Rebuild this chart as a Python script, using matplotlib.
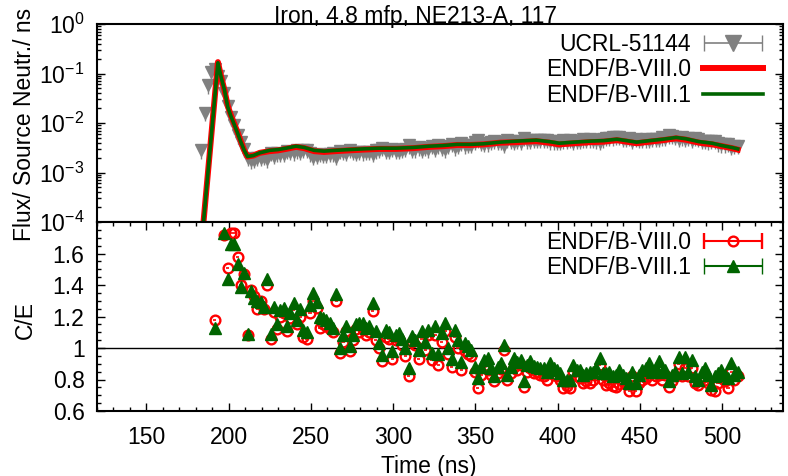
import numpy as np
import matplotlib
matplotlib.use("Agg")
import matplotlib.pyplot as plt
from matplotlib.ticker import MultipleLocator, FixedLocator, FixedFormatter, LogLocator, NullFormatter
from matplotlib.legend_handler import HandlerErrorbar
from matplotlib.container import ErrorbarContainer

plt.rcParams['font.family'] = ['Liberation Sans', 'DejaVu Sans']
plt.rcParams['font.size'] = 16.5
plt.rcParams['mathtext.default'] = 'regular'

# time bins of the C/E points (ns)
t_ce = [191.5, 193.5, 195.5, 197.5, 199.5, 201.5, 203.5, 205.5, 207.5, 209.5,
        211.5, 213.5, 215.5, 217.5, 219.5, 221.5, 223.5, 225.5, 227.5, 229.5,
        231.5, 233.5, 235.5, 237.5, 239.5, 241.5, 243.5, 245.5, 247.5, 249.5,
        251.5, 253.5, 255.5, 257.5, 259.5, 261.5, 263.5, 265.5, 267.5, 269.5,
        271.5, 273.5, 275.5, 277.5, 279.5, 281.5, 283.5, 285.5, 287.5, 289.5,
        291.5, 293.5, 295.5, 297.5, 299.5, 301.5, 303.5, 305.5, 307.5, 309.5,
        311.5, 313.5, 315.5, 317.5, 319.5, 321.5, 323.5, 325.5, 327.5, 329.5,
        331.5, 333.5, 335.5, 337.5, 339.5, 341.5, 343.5, 345.5, 347.5, 349.5,
        351.5, 353.5, 355.5, 357.5, 359.5, 361.5, 363.5, 365.5, 367.5, 369.5,
        371.5, 373.5, 375.5, 377.5, 379.5, 381.5, 383.5, 385.5, 387.5, 389.5,
        391.5, 393.5, 395.5, 397.5, 399.5, 401.5, 403.5, 405.5, 407.5, 409.5,
        411.5, 413.5, 415.5, 417.5, 419.5, 421.5, 423.5, 425.5, 427.5, 429.5,
        431.5, 433.5, 435.5, 437.5, 439.5, 441.5, 443.5, 445.5, 447.5, 449.5,
        451.5, 453.5, 455.5, 457.5, 459.5, 461.5, 463.5, 465.5, 467.5, 469.5,
        471.5, 473.5, 475.5, 477.5, 479.5, 481.5, 483.5, 485.5, 487.5, 489.5,
        491.5, 493.5, 495.5, 497.5, 499.5, 501.5, 503.5, 505.5, 507.5, 509.5]

ce_80 = [1.18, 2.05, 1.90, 1.72, 1.51, 1.73, 1.73, 1.58, 1.40, 1.47,
         1.08, 1.37, 1.33, 1.25, 1.30, 1.245, 1.40, 1.06, 1.23, 1.12,
         1.20, 1.22, 1.105, 1.19, 1.24, 1.15, 1.20, 1.07, 1.06, 1.22,
         1.30, 1.255, 1.13, 1.15, 1.14, 1.12, 1.10, 1.30, 0.97, 1.04,
         1.11, 0.98, 1.05, 1.12, 1.10, 1.12, 1.08, 1.10, 1.235, 1.05,
         1.00, 0.92, 1.07, 1.06, 0.93, 1.05, 1.06, 1.02, 0.95, 0.82,
         1.04, 1.02, 0.93, 1.06, 0.99, 1.08, 0.925, 1.08, 0.89, 1.04,
         1.11, 0.96, 0.88, 1.07, 1.00, 0.86, 0.98, 0.96, 0.95, 0.85,
         0.745, 0.83, 0.88, 0.86, 0.83, 0.79, 0.84, 0.865, 0.99, 0.80,
         0.84, 0.88, 0.86, 0.89, 0.755, 0.85, 0.87, 0.84, 0.85, 0.83,
         0.82, 0.80, 0.85, 0.83, 0.82, 0.80, 0.745, 0.76, 0.745, 0.85,
         0.82, 0.81, 0.78, 0.79, 0.78, 0.80, 0.83, 0.895, 0.80, 0.765,
         0.78, 0.76, 0.755, 0.77, 0.79, 0.77, 0.725, 0.82, 0.725, 0.78,
         0.80, 0.81, 0.83, 0.80, 0.82, 0.83, 0.80, 0.83, 0.755, 0.79,
         0.82, 0.90, 0.82, 0.87, 0.82, 0.87, 0.78, 0.765, 0.81, 0.80,
         0.78, 0.735, 0.725, 0.78, 0.81, 0.79, 0.745, 0.85, 0.80, 0.82]

ce_81 = [1.13, 1.95, 1.85, 1.73, 1.44, 1.66, 1.66, 1.535, 1.385, 1.475,
         1.09, 1.36, 1.32, 1.30, 1.29, 1.26, 1.435, 1.09, 1.26, 1.15,
         1.24, 1.255, 1.14, 1.22, 1.285, 1.18, 1.245, 1.115, 1.10, 1.27,
         1.35, 1.29, 1.20, 1.19, 1.18, 1.16, 1.13, 1.34, 1.00, 1.085,
         1.14, 1.01, 1.085, 1.15, 1.16, 1.16, 1.13, 1.14, 1.285, 1.105,
         1.03, 0.955, 1.115, 1.10, 0.98, 1.08, 1.095, 1.06, 1.00, 0.875,
         1.075, 1.05, 0.99, 1.105, 1.04, 1.115, 0.97, 1.14, 0.96, 1.095,
         1.16, 1.00, 0.93, 1.115, 1.05, 0.91, 1.03, 1.01, 0.99, 0.88,
         0.81, 0.88, 0.925, 0.935, 0.87, 0.82, 0.88, 0.905, 1.02, 0.83,
         0.88, 0.935, 0.91, 0.925, 0.79, 0.89, 0.915, 0.885, 0.88, 0.87,
         0.87, 0.85, 0.905, 0.87, 0.86, 0.84, 0.80, 0.80, 0.80, 0.895,
         0.86, 0.86, 0.83, 0.84, 0.85, 0.85, 0.87, 0.935, 0.84, 0.84,
         0.85, 0.82, 0.83, 0.86, 0.83, 0.81, 0.78, 0.85, 0.78, 0.83,
         0.86, 0.87, 0.905, 0.85, 0.87, 0.915, 0.85, 0.86, 0.79, 0.83,
         0.85, 0.945, 0.84, 0.945, 0.85, 0.925, 0.82, 0.80, 0.85, 0.87,
         0.83, 0.765, 0.82, 0.84, 0.86, 0.83, 0.81, 0.905, 0.83, 0.85]

# measured flux (units of 1e-3 per source neutron per ns)
t_exp = [183.5, 185.5, 187.5, 189.5] + t_ce
flux_exp = [2.8, 16, 58, 105,
            125, 90, 70, 40, 22, 13, 9.0, 5.6, 4.2, 3.0,
            2.0, 1.75, 1.8, 2.0, 1.95, 2.05, 1.85, 2.5, 2.2, 2.45,
            2.35, 2.4, 2.7, 2.6, 2.55, 2.8, 2.65, 2.9, 2.9, 2.45,
            2.1, 2.2, 2.35, 2.3, 2.3, 2.35, 2.45, 2.05, 2.75, 2.6,
            2.5, 2.85, 2.65, 2.5, 2.6, 2.55, 2.65, 2.6, 2.35, 2.8,
            2.9, 3.1, 2.7, 2.75, 3.05, 2.75, 2.75, 2.85, 3.05, 3.55,
            2.9, 2.95, 3.2, 2.85, 3.15, 2.95, 3.4, 3.0, 3.55, 3.1,
            2.95, 3.4, 3.75, 3.2, 3.45, 4.0, 3.55, 3.6, 3.65, 4.1,
            4.5, 4.0, 3.8, 3.9, 4.1, 4.35, 4.15, 4.15, 3.65, 4.6,
            4.4, 4.2, 4.3, 4.2, 4.95, 4.45, 4.4, 4.6, 4.55, 4.6,
            4.5, 4.5, 4.25, 4.25, 4.15, 4.15, 4.45, 4.4, 4.6, 4.1,
            4.3, 4.4, 4.65, 4.6, 4.7, 4.6, 4.45, 4.15, 4.7, 4.95,
            4.95, 5.1, 5.3, 5.2, 4.85, 4.85, 5.05, 4.3, 4.85, 4.6,
            4.6, 4.7, 4.6, 4.8, 4.8, 4.8, 5.1, 4.95, 5.6, 5.5,
            5.3, 4.85, 5.1, 4.8, 5.05, 4.6, 4.95, 4.8, 4.3, 4.3,
            4.25, 4.4, 4.35, 3.9, 3.7, 3.7, 3.8, 3.25, 3.4, 3.45]
exp_err_lo = 0.32
exp_err_hi = 0.15

# calculated flux
t_calc = [183.5, 193.5, 195.5, 197.5, 199.5, 201.5, 203.5, 205.5, 207.5, 209.5, 211.5,
          215, 219, 225, 230, 235, 241, 246, 252, 258, 265,
          273, 282, 292, 302, 312, 322, 330, 339, 347, 355,
          365, 375, 387, 395, 401, 410, 420, 428, 436, 442,
          448, 456, 464, 472, 478, 486, 494, 500, 506, 509.5]
flux_80 = [3.5e-5, 0.17, 0.085, 0.046, 0.022, 0.014, 0.0095, 0.0064, 0.0042, 0.0028, 0.0021,
           0.0022, 0.0025, 0.0027, 0.0028, 0.0030, 0.0033, 0.0031, 0.0027, 0.0026, 0.0027,
           0.0028, 0.0029, 0.0030, 0.0030, 0.0031, 0.0033, 0.0034, 0.0036, 0.0036, 0.0037,
           0.0040, 0.0041, 0.0043, 0.0040, 0.0037, 0.0039, 0.0041, 0.0042, 0.0045, 0.0042,
           0.0039, 0.0042, 0.0045, 0.0049, 0.0046, 0.0040, 0.0037, 0.0034, 0.0031, 0.0029]
flux_81 = [3.5e-5, 0.165, 0.083, 0.046, 0.021, 0.0135, 0.0092, 0.0062, 0.0041, 0.0028, 0.0021,
           0.0022, 0.0025, 0.0028, 0.0029, 0.0031, 0.0034, 0.0032, 0.0028, 0.0027, 0.0028,
           0.0029, 0.0030, 0.0031, 0.0031, 0.0032, 0.0034, 0.0035, 0.0037, 0.0037, 0.0038,
           0.0041, 0.0043, 0.0045, 0.0042, 0.0039, 0.0041, 0.0043, 0.0044, 0.0047, 0.0044,
           0.0041, 0.0044, 0.0047, 0.0051, 0.0048, 0.0042, 0.0039, 0.0035, 0.0032, 0.0030]

red = '#ff0000'
green = '#006400'
gray = '#808080'

fig = plt.figure(figsize=(7.88, 4.76), dpi=100)
ax1 = fig.add_axes([97/788, 1-222/476, (783-97)/788, (222-24)/476])
ax2 = fig.add_axes([97/788, 1-411/476, (783-97)/788, (411-222)/476])

leg_kw = dict(loc='upper right', bbox_to_anchor=(0.984, 1.0), frameon=False,
              markerfirst=False, handlelength=2.6, labelspacing=0.1,
              handletextpad=0.55, borderaxespad=0.0,
              handler_map={ErrorbarContainer: HandlerErrorbar(xerr_size=1.25)})

# ---- top: flux
fe = np.array(flux_exp) * 1e-3
ax1.errorbar(t_exp, fe, xerr=1.0, yerr=[fe*exp_err_lo, fe*exp_err_hi], fmt='v', color=gray,
             ms=8, elinewidth=1, capsize=0, zorder=2)
ax1.plot(t_calc, flux_80, color=red, lw=4.3, zorder=3)
ax1.plot(t_calc, flux_81, color=green, lw=2.6, zorder=4)

h0 = ax1.errorbar([np.nan], [np.nan], xerr=[1], fmt='v', color=gray, ms=11,
                  capsize=6, elinewidth=1.2)
h1, = ax1.plot([], [], color=red, lw=4.3)
h2, = ax1.plot([], [], color=green, lw=2.6)

ax1.set_yscale('log')
ax1.set_ylim(1e-4, 1)
ax1.set_xlim(120, 537)
ax1.yaxis.set_major_locator(LogLocator(base=10, numticks=10))
ax1.yaxis.set_minor_locator(LogLocator(base=10, subs=np.arange(2, 10), numticks=20))
ax1.yaxis.set_minor_formatter(NullFormatter())
ax1.tick_params(axis='x', which='both', bottom=False, top=False, labelbottom=False)
ax1.tick_params(axis='y', which='both', direction='in', left=True, right=True, pad=9)
ax1.tick_params(axis='y', which='major', length=6, width=1)
ax1.tick_params(axis='y', which='minor', length=3, width=1)
ax1.legend([h0, h1, h2], ['UCRL-51144', 'ENDF/B-VIII.0', 'ENDF/B-VIII.1'], **leg_kw)

# ---- bottom: C/E
ax2.axhline(1.0, color='black', lw=1)
ax2.errorbar(t_ce, ce_80, xerr=1.0, fmt='o', mfc='none', mec=red, ms=7, mew=1.7,
             ecolor=red, elinewidth=1.2, capsize=0)
ax2.errorbar(t_ce, ce_81, xerr=1.0, fmt='^', color=green, ms=9,
             elinewidth=1.2, capsize=0)
g0 = ax2.errorbar([np.nan], [np.nan], xerr=[1], fmt='o', mfc='none', mec=red, ms=7, mew=1.7,
                  ecolor=red, elinewidth=1.5, capsize=6)
g1 = ax2.errorbar([np.nan], [np.nan], xerr=[1], fmt='^', color=green, ms=9,
                  elinewidth=1.5, capsize=6)

ax2.set_xlim(120, 537)
ax2.set_ylim(0.6, 1.8)
ax2.yaxis.set_major_locator(FixedLocator([0.6, 0.8, 1.0, 1.2, 1.4, 1.6]))
ax2.yaxis.set_major_formatter(FixedFormatter(['0.6', '0.8', '1', '1.2', '1.4', '1.6']))
ax2.yaxis.set_minor_locator(MultipleLocator(0.05))
ax2.xaxis.set_major_locator(MultipleLocator(50))
ax2.xaxis.set_minor_locator(MultipleLocator(10))
ax2.tick_params(which='both', direction='in', left=True, right=True, top=True, bottom=True)
ax2.tick_params(which='major', length=6, width=1)
ax2.tick_params(which='minor', length=3, width=1)
ax2.tick_params(axis='y', pad=9)
ax2.tick_params(axis='x', pad=11)
ax2.legend([g0, g1], ['ENDF/B-VIII.0', 'ENDF/B-VIII.1'], **leg_kw)

for ax in (ax1, ax2):
    for s in ax.spines.values():
        s.set_linewidth(1.5)

fig.text(416/788, 1-23/476, 'Iron, 4.8 mfp, NE213-A, 117', ha='center', va='baseline')
fig.text(25/788, 1-124/476, 'Flux/ Source Neutr./ ns', rotation=90, ha='center', va='center')
fig.text(25/788, 1-320/476, 'C/E', rotation=90, ha='center', va='center')
fig.text(429/788, 1-466/476, 'Time (ns)', ha='center', va='center')

fig.savefig('out.png', dpi=100)
